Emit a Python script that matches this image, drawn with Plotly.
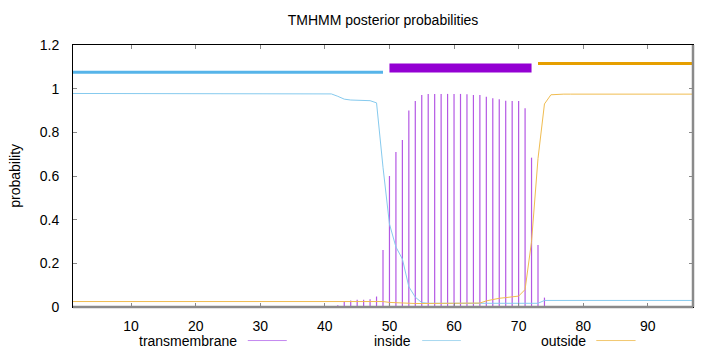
import plotly.graph_objects as go

# ---- data ----
positions = list(range(1, 98))

inside = [
    0.978, 0.978, 0.978, 0.978, 0.978, 0.978, 0.978, 0.978, 0.978, 0.978,
    0.978, 0.978, 0.978, 0.978, 0.978, 0.978, 0.978, 0.978, 0.978, 0.978,
    0.978, 0.978, 0.978, 0.978, 0.978, 0.978, 0.978, 0.978, 0.978, 0.978,
    0.978, 0.978, 0.978, 0.978, 0.978, 0.978, 0.978, 0.978, 0.978, 0.978,
    0.976, 0.965, 0.952, 0.948, 0.947, 0.946, 0.945, 0.935, 0.64, 0.38,
    0.275, 0.22, 0.093, 0.045, 0.02,
    0.017, 0.017, 0.017, 0.017, 0.017, 0.017, 0.017, 0.017, 0.017, 0.017,
    0.017, 0.017, 0.017, 0.017, 0.017, 0.017, 0.017, 0.017,
    0.03, 0.03, 0.03, 0.03, 0.03, 0.03, 0.03, 0.03, 0.03, 0.03,
    0.03, 0.03, 0.03, 0.03, 0.03, 0.03, 0.03, 0.03, 0.03, 0.03,
    0.03, 0.03, 0.03, 0.03,
]

outside = [
    0.025, 0.025, 0.025, 0.025, 0.025, 0.025, 0.025, 0.025, 0.025, 0.025,
    0.025, 0.025, 0.025, 0.025, 0.025, 0.025, 0.025, 0.025, 0.025, 0.025,
    0.025, 0.025, 0.025, 0.025, 0.025, 0.025, 0.025, 0.025, 0.025, 0.025,
    0.025, 0.025, 0.025, 0.025, 0.025, 0.025, 0.025, 0.025, 0.025, 0.025,
    0.025, 0.025, 0.025, 0.025, 0.025, 0.025, 0.025, 0.025, 0.025,
    0.021, 0.019, 0.018, 0.017,
    0.016, 0.016, 0.016, 0.016, 0.016, 0.016, 0.016, 0.016, 0.016, 0.016,
    0.018, 0.028, 0.035, 0.04, 0.043, 0.046, 0.05, 0.08, 0.3, 0.68, 0.93, 0.972,
    0.975, 0.975, 0.975, 0.975, 0.975, 0.975, 0.975, 0.975, 0.975, 0.975,
    0.975, 0.975, 0.975, 0.975, 0.975, 0.975, 0.975, 0.975, 0.975, 0.975,
    0.975, 0.975,
]

transmembrane = [
    0, 0, 0, 0, 0, 0, 0, 0, 0, 0,
    0, 0, 0, 0, 0, 0, 0, 0, 0, 0,
    0, 0, 0, 0, 0, 0, 0, 0, 0, 0,
    0, 0, 0, 0, 0, 0, 0, 0, 0, 0,
    0,
    0.008, 0.024, 0.03, 0.033, 0.033, 0.036, 0.048, 0.261, 0.6, 0.71,
    0.765, 0.9, 0.944, 0.971, 0.976, 0.976, 0.976, 0.976, 0.976, 0.976,
    0.975, 0.971, 0.971, 0.963, 0.956, 0.951, 0.945, 0.944, 0.943, 0.91,
    0.684, 0.284, 0.043,
    0, 0, 0, 0, 0, 0, 0, 0, 0, 0,
    0, 0, 0, 0, 0, 0, 0, 0, 0, 0,
    0, 0, 0,
]

# predicted topology segments (top bars)
seg_names = ["inside", "TMhelix", "outside"]
seg_start = [1, 50, 73]
seg_end = [49, 72, 97]
seg_level = [1.075, 1.095, 1.115]

legend_names = ["transmembrane", "inside", "outside"]

y_ticks = [0, 0.2, 0.4, 0.6, 0.8, 1, 1.2]
x_ticks = [10, 20, 30, 40, 50, 60, 70, 80, 90]

# ---- styles ----
C_TM = "#9400d3"
C_IN = "#56b4e9"
C_OUT = "#e69f00"
seg_colors = [C_IN, C_TM, C_OUT]
seg_widths = [3, 9, 3]
legend_colors = ["#c488f0", "#a8d8f0", "#f2c870"]
FONT = "Liberation Sans, Arial, sans-serif"

fig = go.Figure()

# transmembrane impulses
imp_x, imp_y = [], []
for p, v in zip(positions, transmembrane):
    if v > 0:
        imp_x += [p, p, None]
        imp_y += [0, v, None]
fig.add_trace(go.Scatter(x=imp_x, y=imp_y, mode="lines",
                         line=dict(color="#b458e4", width=1.2),
                         showlegend=False, hoverinfo="skip"))

fig.add_trace(go.Scatter(x=positions, y=inside, mode="lines",
                         line=dict(color="#86caee", width=1),
                         showlegend=False))
fig.add_trace(go.Scatter(x=positions, y=outside, mode="lines",
                         line=dict(color="#f0bc50", width=1),
                         showlegend=False))

for name, s, e, lv, c, w in zip(seg_names, seg_start, seg_end, seg_level,
                                seg_colors, seg_widths):
    fig.add_trace(go.Scatter(x=[s, e], y=[lv, lv], mode="lines",
                             line=dict(color=c, width=w),
                             showlegend=False, name=name))

# ---- manual legend (text then sample line, like gnuplot) ----
leg_text_right = [0.2663, 0.5470, 0.8290]
leg_line_x0 = [0.2819, 0.5632, 0.8440]
leg_line_x1 = [0.3448, 0.6256, 0.9074]
leg_y = -0.128
annotations = []
shapes = []
for name, tr, x0, x1, c in zip(legend_names, leg_text_right, leg_line_x0,
                               leg_line_x1, legend_colors):
    annotations.append(dict(x=tr, y=leg_y, xref="paper", yref="paper",
                            text=name, showarrow=False, xanchor="right",
                            yanchor="middle", borderpad=0,
                            font=dict(family=FONT, size=14, color="#000")))
    shapes.append(dict(type="line", xref="paper", yref="paper",
                       x0=x0, x1=x1, y0=leg_y, y1=leg_y,
                       line=dict(color=c, width=1)))

# y axis title
annotations.append(dict(x=-0.094, y=0.5, xref="paper", yref="paper",
                        text="probability", showarrow=False, textangle=-90,
                        xanchor="center", yanchor="middle",
                        font=dict(family=FONT, size=14, color="#000")))

# grey bottom and right border
shapes.append(dict(type="line", xref="paper", yref="paper", x0=0, x1=1,
                   y0=0, y1=0, line=dict(color="#8a8a8a", width=2.5),
                   layer="above"))
shapes.append(dict(type="line", xref="paper", yref="paper", x0=1, x1=1,
                   y0=0, y1=1, line=dict(color="#8a8a8a", width=2.5),
                   layer="above"))

fig.update_layout(
    width=720, height=352,
    margin=dict(l=73, r=27, t=45, b=45),
    paper_bgcolor="white", plot_bgcolor="white",
    font=dict(family=FONT, size=14, color="#000"),
    title=dict(text="TMHMM posterior probabilities", x=0.5, xref="paper",
               xanchor="center", y=1 - 20 / 352, yanchor="middle",
               font=dict(family=FONT, size=14, color="#000")),
    annotations=annotations,
    shapes=shapes,
    showlegend=False,
)
fig.update_xaxes(range=[1, 97], tickvals=x_ticks, ticks="inside", ticklen=4,
                 tickcolor="#888", showline=True, linecolor="#000",
                 linewidth=1, mirror="ticks", showgrid=False, zeroline=False,
                 ticklabelstandoff=6)
fig.update_yaxes(range=[0, 1.2], tickvals=y_ticks, ticks="inside", ticklen=4,
                 tickcolor="#888", showline=True, linecolor="#000",
                 linewidth=1, mirror="ticks", showgrid=False, zeroline=False,
                 ticklabelstandoff=10)

fig.write_html("out.html")
